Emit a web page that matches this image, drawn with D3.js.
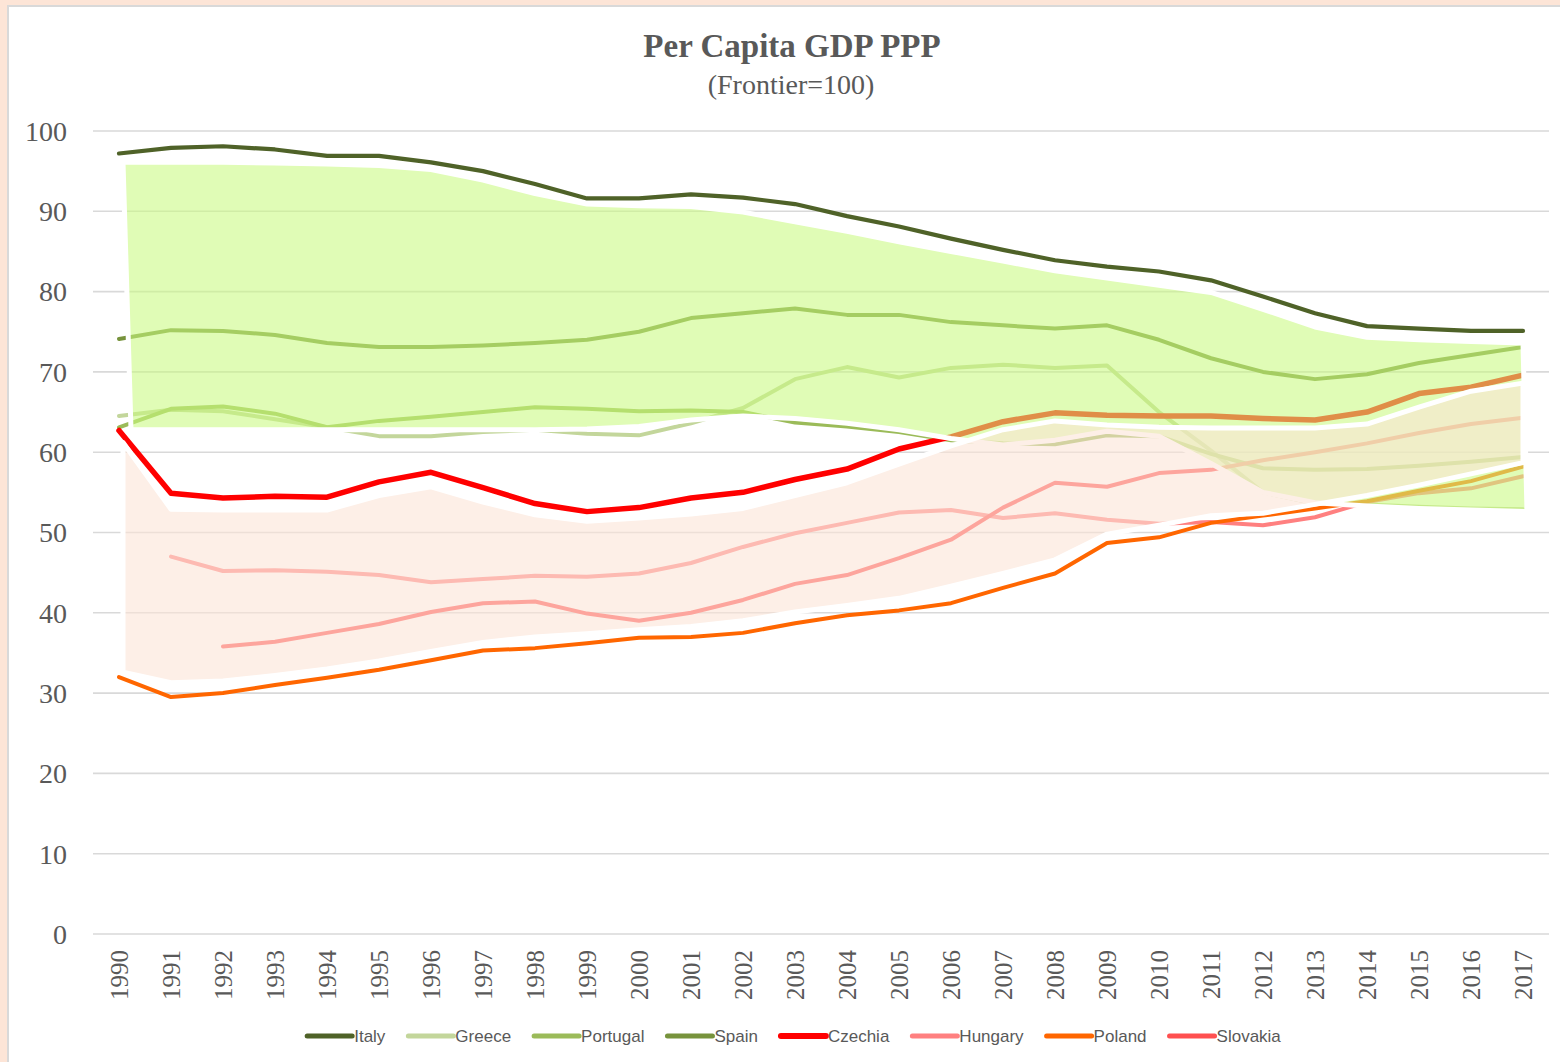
<!DOCTYPE html>
<html><head><meta charset="utf-8">
<script src="https://cdn.jsdelivr.net/npm/d3@7"></script>
<style>html,body{margin:0;padding:0;background:#fde5d7;} svg{display:block}</style>
</head><body><svg id="c" width="1560" height="1062"></svg>
<script>
// ---------- data ----------
const years = [1990,1991,1992,1993,1994,1995,1996,1997,1998,1999,2000,2001,2002,2003,2004,2005,2006,2007,2008,2009,2010,2011,2012,2013,2014,2015,2016,2017];
const yTicks = [0,10,20,30,40,50,60,70,80,90,100];

const italy    = [97.2,97.9,98.1,97.7,96.9,96.9,96.1,95.0,93.4,91.6,91.6,92.1,91.7,90.9,89.4,88.1,86.6,85.2,83.9,83.1,82.5,81.4,79.4,77.3,75.7,75.4,75.1,75.1];
const greece   = [64.5,65.3,65.1,64.1,63.1,62.0,62.0,62.5,62.8,62.3,62.1,63.6,65.5,69.1,70.6,69.3,70.5,70.9,70.5,70.8,65.0,60.2,55.0,53.6,53.5,53.2,53.0,52.9];
const portugal = [63.1,65.4,65.7,64.8,63.1,63.9,64.4,65.0,65.6,65.4,65.1,65.2,65.0,63.7,63.2,62.5,61.5,61.1,61.0,62.1,62.0,59.8,58.0,57.8,57.9,58.3,58.8,59.4];
const spain    = [74.1,75.2,75.1,74.6,73.6,73.1,73.1,73.3,73.6,74.0,75.0,76.7,77.3,77.9,77.1,77.1,76.2,75.8,75.4,75.8,74.0,71.7,70.0,69.1,69.7,71.1,72.1,73.1];
const czechia  = [62.7,54.9,54.3,54.5,54.4,56.3,57.5,55.6,53.6,52.6,53.1,54.3,55.0,56.6,57.9,60.4,61.9,63.8,64.9,64.6,64.5,64.5,64.2,64.0,65.0,67.3,68.1,69.6];
const hungary  = [null,47.0,45.2,45.3,45.1,44.7,43.8,44.2,44.6,44.5,44.9,46.2,48.2,49.9,51.2,52.5,52.8,51.8,52.4,51.6,51.1,51.3,50.9,51.9,53.8,54.9,55.5,57.0];
const poland   = [32.0,29.5,30.0,31.0,31.9,32.9,34.1,35.3,35.6,36.2,36.9,37.0,37.5,38.7,39.7,40.3,41.2,43.1,44.9,48.7,49.4,51.2,52.1,53.0,53.9,55.2,56.4,58.2];
const slovakia = [null,null,35.8,36.4,37.5,38.6,40.1,41.2,41.4,39.9,39.0,40.0,41.6,43.6,44.7,46.8,49.1,53.1,56.2,55.7,57.4,57.8,59.0,60.0,61.1,62.4,63.5,64.3];

// shaded group envelopes
const southTop    = [96.1,96.1,96.1,96.0,95.9,95.7,95.2,93.9,92.2,90.9,90.7,90.6,89.9,88.7,87.5,86.2,85.0,83.8,82.6,81.7,80.8,79.9,77.8,75.6,74.3,74.0,73.8,73.6];
const southBottom = [62.8,62.8,62.8,62.8,62.8,62.8,62.8,62.8,62.8,62.9,63.2,64.0,64.5,64.2,63.6,62.8,61.7,60.9,61.5,62.6,62.0,58.6,55.0,53.7,53.3,53.0,52.8,52.6];
const eastTop     = [61.2,52.9,52.8,52.8,52.8,54.6,55.7,53.8,52.2,51.4,51.8,52.3,53.0,54.6,56.2,58.5,60.8,62.8,63.9,63.4,63.1,63.0,63.0,63.0,63.5,65.6,67.6,68.6];
const eastBottom  = [32.6,31.3,31.5,32.2,33.0,34.0,35.2,36.3,37.0,37.4,37.9,38.3,39.0,40.1,40.9,41.8,43.3,44.9,46.6,49.8,50.9,52.1,52.4,53.5,54.6,55.9,57.3,58.7];

const seriesNames  = ["Italy","Greece","Portugal","Spain","Czechia","Hungary","Poland","Slovakia"];
const seriesValues = [italy,greece,portugal,spain,czechia,hungary,poland,slovakia];
const seriesColors = ["#4f6228","#c3d69b","#9bbb59","#77933c","#ff0000","#ff8080","#ff6600","#ff5050"];
const seriesWidths = [4.2,4,4,4,5.5,4,4,4];

// ---------- layout ----------
const W = 1560, H = 1062;
const svg = d3.select("#c");
const x = d3.scaleLinear().domain([years[0]-0.5, years[years.length-1]+0.5]).range([93, 1549]);
const y = d3.scaleLinear().domain([0, 100]).range([934, 131]);
const grey = "#595959";
const serif = "'Liberation Serif', 'Times New Roman', serif";

svg.append("rect").attr("width", W).attr("height", H).attr("fill", "#fde5d7");
svg.append("rect").attr("x", 8).attr("y", 6).attr("width", W).attr("height", H)
  .attr("fill", "#ffffff").attr("stroke", "#d9d9d9").attr("stroke-width", 2);

// title
svg.append("text").attr("x", 792).attr("y", 57).attr("text-anchor", "middle")
  .attr("font-family", serif).attr("font-weight", "bold")
  .attr("font-size", 33).attr("fill", grey).text("Per Capita GDP PPP");
svg.append("text").attr("x", 791).attr("y", 94).attr("text-anchor", "middle")
  .attr("font-family", serif)
  .attr("font-size", 28).attr("fill", grey).text("(Frontier=100)");

// gridlines
svg.append("g").selectAll("line").data(yTicks).join("line")
  .attr("x1", x.range()[0]).attr("x2", x.range()[1])
  .attr("y1", d => y(d)).attr("y2", d => y(d))
  .attr("stroke", "#d9d9d9").attr("stroke-width", 1.6);

// y labels
svg.append("g").selectAll("text").data(yTicks).join("text")
  .attr("x", 67).attr("y", d => y(d)).attr("dy", "0.35em").attr("text-anchor", "end")
  .attr("font-family", serif)
  .attr("font-size", 28).attr("fill", grey).text(d => d);

// x labels (rotated)
svg.append("g").selectAll("text").data(years).join("text")
  .attr("transform", d => `translate(${x(d)},950) rotate(-90)`)
  .attr("dy", "0.35em").attr("text-anchor", "end")
  .attr("font-family", serif)
  .attr("font-size", 25).attr("fill", grey).text(d => d);

// series lines
const line = d3.line().defined(d => d[1] != null).x(d => x(d[0])).y(d => y(d[1]));
const gLines = svg.append("g");
seriesValues.forEach((vals, i) => {
  gLines.append("path")
    .attr("d", line(years.map((yr, j) => [yr, vals[j]])))
    .attr("fill", "none").attr("stroke", seriesColors[i]).attr("stroke-width", seriesWidths[i])
    .attr("stroke-linejoin", "round").attr("stroke-linecap", "round");
});

// envelopes drawn over the lines, semi transparent with white outline
function envelope(top, bottom, insetTop0, insetBot0, insetBotEnd) {
  const n = years.length;
  const pts = [];
  years.forEach((yr, j) => {
    let xv = x(yr);
    if (j === 0) xv += insetTop0;
    pts.push([xv, y(top[j])]);
  });
  for (let j = n - 1; j >= 0; j--) {
    let xv = x(years[j]);
    if (j === 0) xv += insetBot0;
    if (j === n - 1) xv += insetBotEnd;
    pts.push([xv, y(bottom[j])]);
  }
  return "M" + pts.map(p => p.join(",")).join("L") + "Z";
}
svg.append("path").attr("d", envelope(southTop, southBottom, 4, 12, 4))
  .attr("fill", "rgb(201,250,126)").attr("fill-opacity", 0.57)
  .attr("stroke", "#ffffff").attr("stroke-width", 5).attr("stroke-linejoin", "round");
svg.append("path").attr("d", envelope(eastTop, eastBottom, 4, 4, 0))
  .attr("fill", "rgb(252,228,214)").attr("fill-opacity", 0.58)
  .attr("stroke", "#ffffff").attr("stroke-width", 5).attr("stroke-linejoin", "round");

// legend
const lg = svg.append("g");
let cx = 0;
const gap = 23;
seriesNames.forEach((name, i) => {
  const g = lg.append("g").attr("transform", `translate(${cx},0)`);
  g.append("line").attr("x1", 0).attr("x2", 45).attr("y1", 0).attr("y2", 0)
    .attr("stroke", seriesColors[i]).attr("stroke-width", i === 4 ? 6 : 5).attr("stroke-linecap", "round");
  const t = g.append("text").attr("x", 47).attr("y", 0).attr("dy", "0.35em")
    .attr("font-family", "'Liberation Sans', Arial, sans-serif").attr("font-size", 17)
    .attr("fill", grey).text(name);
  cx += 47 + t.node().getComputedTextLength() + gap;
});
const total = cx - gap;
lg.attr("transform", `translate(${794 - total / 2},1036)`);
</script></body></html>
